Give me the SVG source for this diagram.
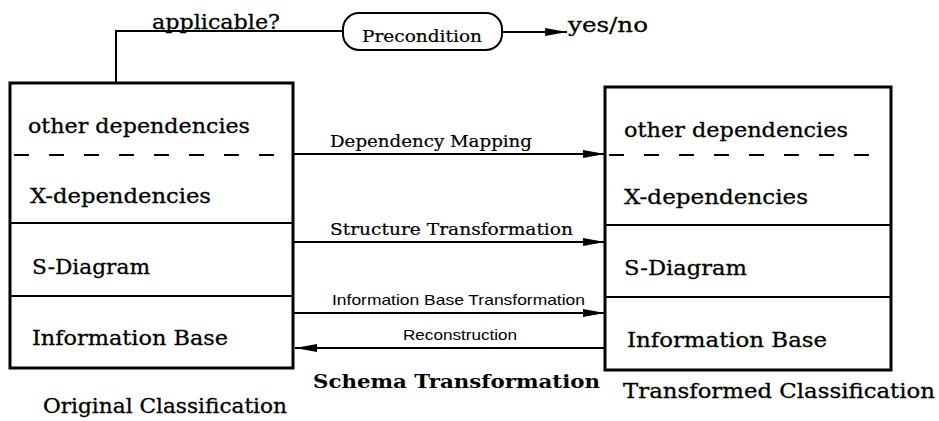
<svg xmlns="http://www.w3.org/2000/svg" width="939" height="421" viewBox="0 0 939 421">
<style>
.box{fill:#fff;stroke:#000;stroke-width:3}
.div{stroke:#000;stroke-width:2}
.dash{stroke:#000;stroke-width:2;stroke-dasharray:15 20}
.ln{stroke:#000;stroke-width:2;fill:none}
.t{font-family:"DejaVu Serif","Liberation Serif",serif;font-size:21px;fill:#000;stroke:#000;stroke-width:0.3}
.m{font-family:"DejaVu Serif","Liberation Serif",serif;font-size:17px;fill:#000;stroke:#000;stroke-width:0.2}
.s{font-family:"Liberation Sans",Arial,sans-serif;font-size:15px;fill:#000}
.b{font-family:"DejaVu Serif","Liberation Serif",serif;font-size:18px;font-weight:bold;fill:#000}
</style>
<defs>
<marker id="ah" viewBox="0 0 22 8" refX="22" refY="4" markerWidth="22" markerHeight="8" markerUnits="userSpaceOnUse" orient="auto">
<path d="M0,0 L22,4 L0,8 Z" fill="#000"/>
</marker>
</defs>
<g id="connectors">
<path class="ln" d="M116,83 V31 H343"/>
<line class="ln" x1="502" y1="32" x2="567" y2="32" marker-end="url(#ah)"/>
<line class="ln" x1="293" y1="154" x2="605" y2="154" marker-end="url(#ah)"/>
<line class="ln" x1="293" y1="242" x2="605" y2="242" marker-end="url(#ah)"/>
<line class="ln" x1="293" y1="313" x2="605" y2="313" marker-end="url(#ah)"/>
<line class="ln" x1="605" y1="348" x2="295" y2="348" marker-end="url(#ah)"/>
<text class="t" x="152" y="29" textLength="128" lengthAdjust="spacingAndGlyphs">applicable?</text>
<text class="t" x="568" y="32" textLength="80" lengthAdjust="spacingAndGlyphs">yes/no</text>
<text class="m" x="330" y="147" textLength="202" lengthAdjust="spacingAndGlyphs">Dependency Mapping</text>
<text class="m" x="330" y="235" textLength="243" lengthAdjust="spacingAndGlyphs">Structure Transformation</text>
<text class="s" x="332" y="305" textLength="253" lengthAdjust="spacingAndGlyphs">Information Base Transformation</text>
<text class="s" x="403" y="340" textLength="114" lengthAdjust="spacingAndGlyphs">Reconstruction</text>
</g>
<g id="precondition">
<rect x="343" y="13" width="159" height="37" rx="16" fill="#fff" stroke="#000" stroke-width="2"/>
<text class="m" x="362" y="42" textLength="120" lengthAdjust="spacingAndGlyphs">Precondition</text>
</g>
<g id="original">
<rect class="box" x="10" y="83" width="283" height="285"/>
<line class="dash" x1="14" y1="155" x2="290" y2="155"/>
<line class="div" x1="10" y1="223" x2="293" y2="223"/>
<line class="div" x1="10" y1="296" x2="293" y2="296"/>
<text class="t" x="28" y="133" textLength="222" lengthAdjust="spacingAndGlyphs">other dependencies</text>
<text class="t" x="30" y="203" textLength="181" lengthAdjust="spacingAndGlyphs">X-dependencies</text>
<text class="t" x="32" y="274" textLength="118" lengthAdjust="spacingAndGlyphs">S-Diagram</text>
<text class="t" x="32" y="345" textLength="196" lengthAdjust="spacingAndGlyphs">Information Base</text>
<text class="t" x="43" y="413" textLength="244" lengthAdjust="spacingAndGlyphs">Original Classification</text>
</g>
<g id="transformed">
<rect class="box" x="605" y="87" width="286" height="283"/>
<line class="dash" x1="609" y1="155" x2="889" y2="155"/>
<line class="div" x1="605" y1="225" x2="891" y2="225"/>
<line class="div" x1="605" y1="297" x2="891" y2="297"/>
<text class="t" x="624" y="137" textLength="224" lengthAdjust="spacingAndGlyphs">other dependencies</text>
<text class="t" x="624" y="204" textLength="184" lengthAdjust="spacingAndGlyphs">X-dependencies</text>
<text class="t" x="624" y="275" textLength="123" lengthAdjust="spacingAndGlyphs">S-Diagram</text>
<text class="t" x="627" y="347" textLength="200" lengthAdjust="spacingAndGlyphs">Information Base</text>
<text class="t" x="623" y="398" textLength="312" lengthAdjust="spacingAndGlyphs">Transformed Classification</text>
</g>
<g id="title">
<text class="b" x="313" y="388" textLength="287" lengthAdjust="spacingAndGlyphs">Schema Transformation</text>
</g>
</svg>
